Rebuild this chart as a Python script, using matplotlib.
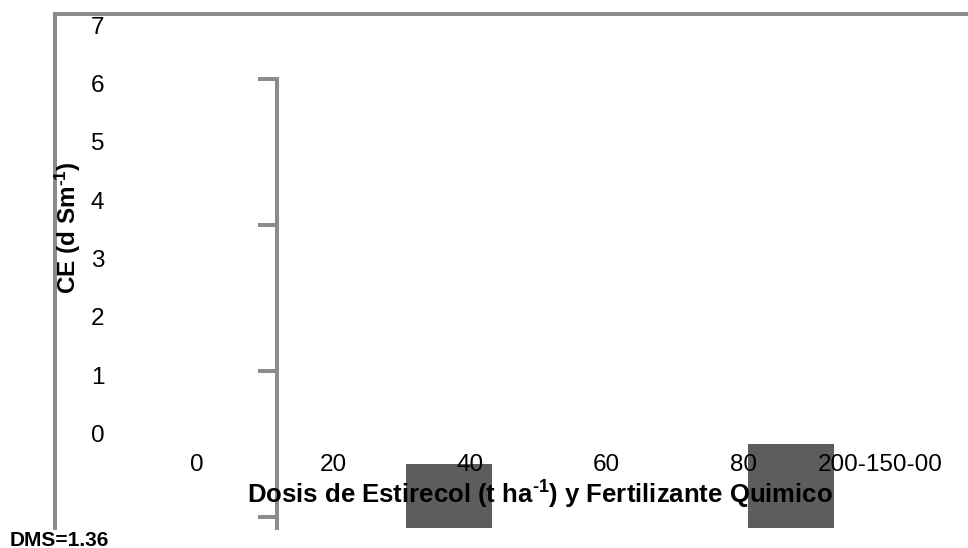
import matplotlib
matplotlib.use("Agg")
import matplotlib.pyplot as plt

plt.rcParams['font.family'] = ['Liberation Sans', 'DejaVu Sans']
plt.rcParams['mathtext.default'] = 'regular'

# ---- data ----
categories = ["0", "20", "40", "60", "80", "200-150-00"]
y_ticks = [0, 1, 2, 3, 4, 5, 6, 7]
bar_positions = [1.85, 4.35]
bar_tops = [-0.52, -0.18]
bar_base = -3.0
sec_ticks = [0, 1, 2, 3]

GRAY = "#8c8c8c"
BAR = "#5d5d5d"
W, H = 968, 548
fig = plt.figure(figsize=(W / 100, H / 100), dpi=100)

left_px, top_px, bottom_px, right_px = 55, 14, 528, 968
ax = fig.add_axes([left_px / W, (H - bottom_px) / H,
                   (right_px - left_px) / W, (bottom_px - top_px) / H])

# scale: category i -> px 196.5 + 136.7 i ; value v -> px 433.5 - 58.33 v
x0, dx = 196.5, 136.7
y0, dy = 433.5, 58.33
ax.set_xlim((left_px - x0) / dx, (right_px - x0) / dx)
ax.set_ylim((y0 - bottom_px) / dy, (y0 - top_px) / dy)

ax.bar(bar_positions, [t - bar_base for t in bar_tops], bottom=bar_base,
       width=0.63, color=BAR, zorder=1)

for s in ['right', 'bottom']:
    ax.spines[s].set_visible(False)
for s in ['left', 'top']:
    ax.spines[s].set_color(GRAY)
    ax.spines[s].set_linewidth(2.9)
    ax.spines[s].set_zorder(3)

TICK_FS = 17.5
ax.set_yticks(y_ticks)
ax.set_yticklabels([str(v) for v in y_ticks])
ax.tick_params(axis='y', length=0, pad=-(97.5 - left_px) * 0.72, labelsize=TICK_FS)
for lbl in ax.get_yticklabels():
    lbl.set_ha('center')

ax.set_xticks(range(len(categories)))
ax.set_xticklabels(categories)
ax.tick_params(axis='x', length=0, pad=-(bottom_px - 465) * 0.72, labelsize=TICK_FS)
for lbl in ax.get_xticklabels():
    lbl.set_va('center')
    lbl.set_zorder(5)

# secondary bracket axis
ax2 = ax.twinx()
ax2.set_position(ax.get_position())
ax2.set_ylim((517 - bottom_px) / 146.0, (517 - top_px) / 146.0)
for s in ['right', 'top', 'bottom']:
    ax2.spines[s].set_visible(False)
ax2.spines['left'].set_visible(True)
ax2.spines['left'].set_position(('axes', (277 - left_px) / (right_px - left_px)))
ax2.spines['left'].set_color(GRAY)
ax2.spines['left'].set_linewidth(2.9)
ax2.spines['left'].set_bounds(ax2.get_ylim()[0], sec_ticks[-1])
ax2.yaxis.set_ticks_position('left')
ax2.set_yticks(sec_ticks)
ax2.set_yticklabels([])
ax2.tick_params(axis='y', length=13.5, width=2.9, color=GRAY, direction='out')
ax2.set_zorder(0)
ax.set_zorder(1)
ax.patch.set_visible(False)

# axis titles
sup = "$^{\u20101}$"
fig.text(540 / W, 1 - 495 / H, "Dosis de Estirecol (t ha" + sup + ") y Fertilizante Quimico",
         ha='center', va='center', fontsize=18.5, fontweight='bold', zorder=10)
fig.text(68 / W, 1 - 228 / H, "CE (d Sm" + sup + ")", rotation=90,
         ha='center', va='center', fontsize=17.5, fontweight='bold', zorder=10)
fig.text(10 / W, 1 - 540 / H, "DMS=1.36", ha='left', va='center',
         fontsize=15, fontweight='bold')

fig.savefig("out.png", dpi=100)
